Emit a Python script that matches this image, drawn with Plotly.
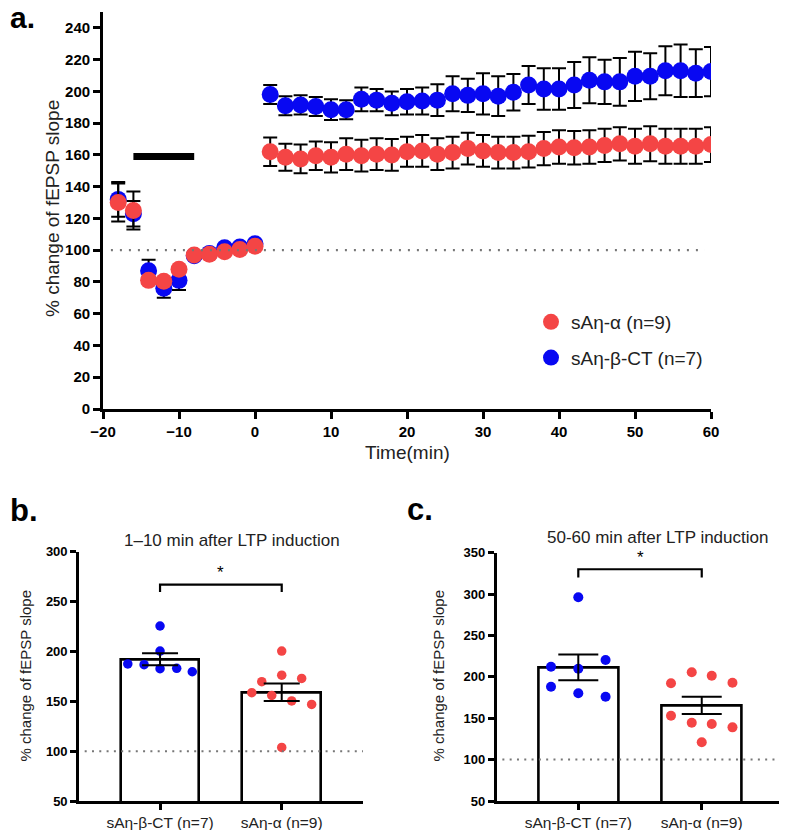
import plotly.graph_objects as go

# page is offset by the browser's default 8px body margin; figure fills the rest
OFF = 8
W, H = 787 - OFF, 830 - OFF

# ---------------- DATA: panel a (time course) ----------------
time_min = [-18, -16, -14, -12, -10, -8, -6, -4, -2, 0,
            2, 4, 6, 8, 10, 12, 14, 16, 18, 20, 22, 24, 26, 28, 30,
            32, 34, 36, 38, 40, 42, 44, 46, 48, 50, 52, 54, 56, 58, 60]

beta_mean = [132, 123, 87, 76, 81, 96.5, 98, 101.5, 102, 104,
             198, 191, 191.5, 190.5, 188.5, 188.5, 195, 194.5, 192.5, 193.5,
             194, 194.5, 198.5, 197.5, 198.5, 197, 199.5, 204, 201.5, 201.5,
             204, 207, 206, 206, 209.5, 209.5, 213, 213, 211.5, 212.5]
beta_sem = [11, 8, 7, 6, 6, 2, 2, 2, 2, 2,
            6, 6, 6, 6, 6.5, 6, 7.5, 7, 7.5, 8,
            8.5, 10, 11, 10.5, 13, 12.5, 11.5, 12, 13, 13,
            14.5, 14.5, 14, 15, 15.5, 14.5, 15.5, 16.5, 15, 15.5]

alpha_mean = [130, 125, 81, 80.5, 88, 97, 97.5, 99, 100.5, 102.5,
              162, 158.5, 157.5, 159.5, 158.5, 160.5, 159.5, 160.5, 160, 162,
              162.5, 160.5, 161.5, 164, 162.5, 161.5, 161.5, 162, 164, 165,
              164.5, 165, 166, 167, 165.5, 167, 165.5, 165.5, 165.5, 166.5]
alpha_sem = [12, 12, 2, 2, 2, 2, 2, 2, 2, 2,
             9, 8.5, 9, 9, 9.5, 10, 10, 10, 10, 9.5,
             10, 10, 10, 10, 10, 10, 10, 10, 10.5, 10.5,
             10.5, 10.5, 10.5, 10.5, 11, 11, 11, 11, 11, 11]

stim_period = [-16, -8]      # tetanus bar (min)
stim_level = 159             # drawn at this % level
baseline = 100

alpha_name = "sAη-α (n=9)"
beta_name = "sAη-β-CT (n=7)"

# ---------------- DATA: panels b, c ----------------
group_labels = ["sAη-β-CT (n=7)", "sAη-α (n=9)"]

b_beta_pts = [187.4, 186.7, 225.5, 200.3, 182.7, 183.0, 179.6]
b_alpha_pts = [158.6, 169.7, 155.9, 200.3, 176.2, 103.7, 150.4, 172.9, 146.8]
b_means = [192.2, 159.0]
b_sems = [6.0, 8.8]

c_beta_pts = [212.3, 188.1, 296.1, 209.8, 180.1, 220.3, 176.0]
c_alpha_pts = [192.2, 153.1, 205.5, 144.6, 120.9, 201.4, 143.0, 192.9, 139.0]
c_means = [211.5, 165.5]
c_sems = [15.5, 10.5]

b_title = "1–10 min after LTP induction"
c_title = "50-60 min after LTP induction"

# jitter layout for scatter dots (category units)
b_beta_jit = [-0.265, -0.131, 0, 0, 0, 0.137, 0.265]
b_alpha_jit = [-0.246, -0.164, -0.082, 0, 0, 0, 0.082, 0.164, 0.246]
c_beta_jit = [-0.221, -0.221, 0, 0, 0, 0.221, 0.221]
c_alpha_jit = [-0.249, -0.249, -0.081, -0.081, 0, 0.081, 0.081, 0.249, 0.249]

RED = "#F44545"
BLUE = "#0808F2"
FONT = "Liberation Sans, Arial, sans-serif"


def px(x):
    return (x - OFF) / W


def py(y):
    return 1 - (y - OFF) / H


fig = go.Figure()

# ---- panel a traces ----
fig.add_trace(go.Scatter(
    x=time_min, y=beta_mean, mode="markers", name=beta_name,
    marker=dict(color=BLUE, size=17, line=dict(width=0)),
    error_y=dict(type="data", array=beta_sem, color="black", thickness=2, width=7),
    xaxis="x", yaxis="y", legendrank=2, legendgroup="g2"))
fig.add_trace(go.Scatter(
    x=time_min, y=alpha_mean, mode="markers", name=alpha_name,
    marker=dict(color=RED, size=17, line=dict(width=0)),
    error_y=dict(type="data", array=alpha_sem, color="black", thickness=2, width=7),
    xaxis="x", yaxis="y", legendrank=1, legendgroup="g1"))

# ---- panel b ----
fig.add_trace(go.Bar(x=[0, 1], y=b_means, width=0.646, marker=dict(color="white", line=dict(color="black", width=2.6)),
                     xaxis="x2", yaxis="y2", showlegend=False))
fig.add_trace(go.Scatter(x=[0 + j for j in b_beta_jit], y=b_beta_pts, mode="markers",
                         marker=dict(color=BLUE, size=9.5), xaxis="x2", yaxis="y2", showlegend=False))
fig.add_trace(go.Scatter(x=[1 + j for j in b_alpha_jit], y=b_alpha_pts, mode="markers",
                         marker=dict(color=RED, size=9.5), xaxis="x2", yaxis="y2", showlegend=False))
fig.add_trace(go.Scatter(x=[0, 1], y=b_means, mode="markers", marker=dict(size=1, opacity=0),
                         error_y=dict(type="data", array=b_sems, color="black", thickness=2, width=18),
                         xaxis="x2", yaxis="y2", showlegend=False, hoverinfo="skip"))

# ---- panel c ----
fig.add_trace(go.Bar(x=[0, 1], y=c_means, width=0.648, marker=dict(color="white", line=dict(color="black", width=2.6)),
                     xaxis="x3", yaxis="y3", showlegend=False))
fig.add_trace(go.Scatter(x=[0 + j for j in c_beta_jit], y=c_beta_pts, mode="markers",
                         marker=dict(color=BLUE, size=10), xaxis="x3", yaxis="y3", showlegend=False))
fig.add_trace(go.Scatter(x=[1 + j for j in c_alpha_jit], y=c_alpha_pts, mode="markers",
                         marker=dict(color=RED, size=10), xaxis="x3", yaxis="y3", showlegend=False))
fig.add_trace(go.Scatter(x=[0, 1], y=c_means, mode="markers", marker=dict(size=1, opacity=0),
                         error_y=dict(type="data", array=c_sems, color="black", thickness=2, width=20),
                         xaxis="x3", yaxis="y3", showlegend=False, hoverinfo="skip"))

axis_common = dict(showline=True, linecolor="black", mirror=False, showgrid=False, zeroline=False,
                   ticks="outside", tickcolor="black", automargin=False)

fig.update_layout(
    template="none",
    width=W, height=H, margin=dict(l=0, r=0, t=0, b=0, pad=0, autoexpand=False),
    paper_bgcolor="white", plot_bgcolor="white",
    font=dict(family=FONT, color="black"),
    bargap=0,
    xaxis=dict(domain=[px(103), px(711)], range=[-20, 60], dtick=10, tick0=-20,
               linewidth=2.8, tickwidth=2.8, ticklen=7,
               tickfont=dict(size=15, weight="bold", family=FONT), anchor="y", **axis_common),
    yaxis=dict(domain=[py(409), py(12)], range=[0, 250], tickvals=list(range(0, 241, 20)),
               linewidth=2.8, tickwidth=2.8, ticklen=7,
               tickfont=dict(size=15, weight="bold", family=FONT), anchor="x", **axis_common),
    xaxis2=dict(domain=[px(79), px(363)], range=[-0.666, 1.668], tickvals=[0, 1], ticktext=group_labels,
                linewidth=2.6, tickwidth=2.6, ticklen=6,
                tickfont=dict(size=15.5, family=FONT, color="#222"), anchor="y2", **axis_common),
    yaxis2=dict(domain=[py(801), py(551.7)], range=[50, 300], dtick=50, tick0=50,
                linewidth=2.6, tickwidth=2.6, ticklen=6,
                tickfont=dict(size=13, weight="bold", family=FONT), anchor="x2", **axis_common),
    xaxis3=dict(domain=[px(496.7), px(780)], range=[-0.661, 1.634], tickvals=[0, 1], ticktext=group_labels,
                linewidth=2.6, tickwidth=2.6, ticklen=6,
                tickfont=dict(size=15.5, family=FONT, color="#222"), anchor="y3", **axis_common),
    yaxis3=dict(domain=[py(801), py(552.7)], range=[50, 350], dtick=50, tick0=50,
                linewidth=2.6, tickwidth=2.6, ticklen=6,
                tickfont=dict(size=13, weight="bold", family=FONT), anchor="x3", **axis_common),
    legend=dict(x=px(531), y=py(303), xanchor="left", yanchor="top",
                font=dict(size=19, family=FONT, color="#222"), bgcolor="rgba(0,0,0,0)",
                tracegroupgap=8, itemsizing="trace"),
    showlegend=True,
)

shapes = []
# baseline dotted lines
dot = dict(color="#777", width=2.2, dash="2px,7px")
shapes.append(dict(type="line", xref="x domain", yref="y", x0=0.013, x1=0.99, y0=baseline, y1=baseline, line=dot))
shapes.append(dict(type="line", xref="x2 domain", yref="y2", x0=0.02, x1=1.0, y0=baseline, y1=baseline,
                   line=dict(color="#777", width=2, dash="2px,5.3px")))
shapes.append(dict(type="line", xref="x3 domain", yref="y3", x0=0.02, x1=1.0, y0=baseline, y1=baseline,
                   line=dict(color="#777", width=2, dash="2px,5.3px")))
# stimulation bar
shapes.append(dict(type="line", xref="x", yref="y", x0=stim_period[0], x1=stim_period[1],
                   y0=stim_level, y1=stim_level, line=dict(color="black", width=7)))
# significance brackets
b_br, b_drop = 267, 7.5
c_br, c_drop = 330, 10
shapes.append(dict(type="path", xref="x2", yref="y2",
                   path=f"M 0 {b_br - b_drop} L 0 {b_br} L 1 {b_br} L 1 {b_br - b_drop}",
                   line=dict(color="black", width=2.2)))
shapes.append(dict(type="path", xref="x3", yref="y3",
                   path=f"M 0 {c_br - c_drop} L 0 {c_br} L 1 {c_br} L 1 {c_br - c_drop}",
                   line=dict(color="black", width=2.2)))
fig.update_layout(shapes=shapes)


def label(text, x, y, size, angle=0, color="#222", xanchor="center"):
    return dict(text=text, x=px(x), y=py(y), xref="paper", yref="paper", xanchor=xanchor, yanchor="middle",
                textangle=angle, showarrow=False, font=dict(size=size, family=FONT, color=color))


ann = [
    label("<b>a.</b>", OFF, 17, 30, color="black", xanchor="left"),
    label("<b>b.</b>", OFF, 510, 31, color="black", xanchor="left"),
    label("<b>c.</b>", 405, 509, 31, color="black", xanchor="left"),
    label("% change of fEPSP slope", 53, 209, 19, angle=-90),
    label("Time(min)", 407, 452, 19),
    label("% change of fEPSP slope", 25, 675.5, 15, angle=-90),
    label("% change of fEPSP slope", 438, 675.5, 15, angle=-90),
    label(b_title, 232, 540, 17),
    label(c_title, 657, 537, 17),
]
ann.append(dict(text="*", x=0.5, y=b_br, xref="x2", yref="y2", yshift=12, showarrow=False,
                xanchor="center", font=dict(size=17, family=FONT, color="black")))
ann.append(dict(text="*", x=0.5, y=c_br, xref="x3", yref="y3", yshift=12, showarrow=False,
                xanchor="center", font=dict(size=17, family=FONT, color="black")))
fig.update_layout(annotations=ann)

fig.write_html("out.html")
